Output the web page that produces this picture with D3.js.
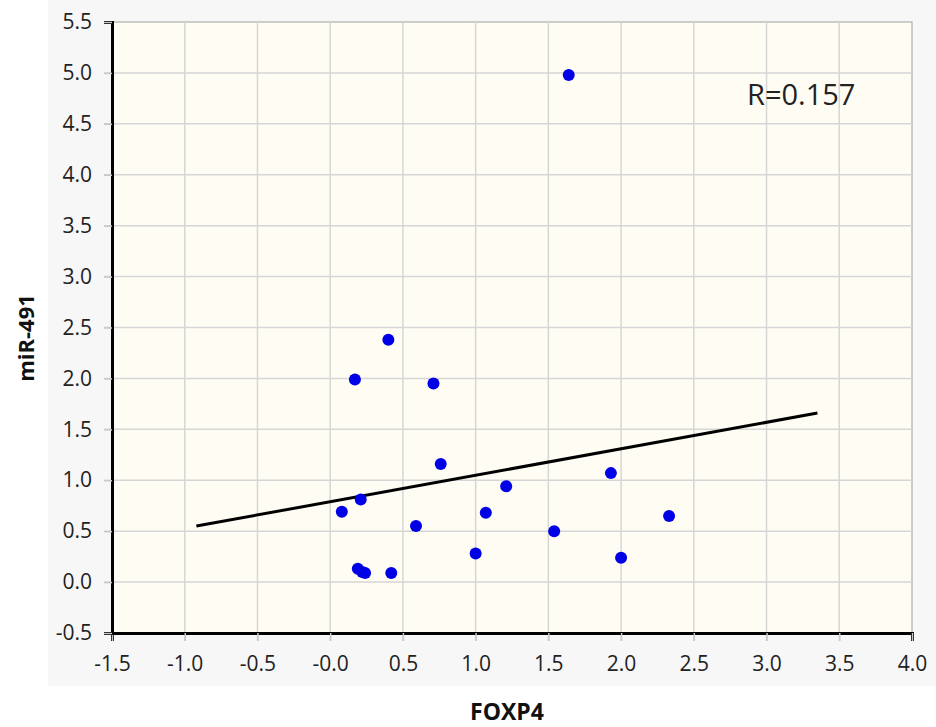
<!DOCTYPE html>
<html>
<head>
<meta charset="utf-8">
<script src="https://cdn.jsdelivr.net/npm/d3@7"></script>
<style>
  body { margin: 0; background: #fff; }
  text { font-family: 'Open Sans', sans-serif; fill: #222; }
</style>
</head>
<body>
<div class="visual"></div>
<script>
const [width, height] = [936, 727];
const margin = { top: 22, right: 24, bottom: 94, left: 112 };

// FOXP4 (x) vs miR-491 (y)
const foxp4 = [0.40, 0.17, 0.71, 0.76, 1.93, 1.21, 0.21, 0.08, 1.07, 2.33, 0.59, 1.54, 1.00, 2.00, 0.19, 0.24, 0.22, 0.42, 1.64];
const mir491 = [2.38, 1.99, 1.95, 1.16, 1.07, 0.94, 0.81, 0.69, 0.68, 0.65, 0.55, 0.50, 0.28, 0.24, 0.13, 0.09, 0.10, 0.09, 4.98];

// fitted line endpoints
const fit_x = [-0.92, 3.35];
const fit_y = [0.55, 1.66];

const x_ticks = [-1.5, -1.0, -0.5, 0, 0.5, 1.0, 1.5, 2.0, 2.5, 3.0, 3.5, 4.0];
const x_tick_labels = ['-1.5', '-1.0', '-0.5', '-0.0', '0.5', '1.0', '1.5', '2.0', '2.5', '3.0', '3.5', '4.0'];
const y_ticks = [-0.5, 0, 0.5, 1.0, 1.5, 2.0, 2.5, 3.0, 3.5, 4.0, 4.5, 5.0, 5.5];
const y_tick_labels = ['-0.5', '0.0', '0.5', '1.0', '1.5', '2.0', '2.5', '3.0', '3.5', '4.0', '4.5', '5.0', '5.5'];

const svg = d3.select('.visual').append('svg')
  .attr('width', width)
  .attr('height', height);

const x_scale = d3.scaleLinear().domain([-1.5, 4.0]).range([margin.left, width - margin.right]);
const y_scale = d3.scaleLinear().domain([-0.5, 5.5]).range([height - margin.bottom, margin.top]);

// faint grey panel behind the chart
svg.append('rect')
  .attr('x', 48).attr('y', 0)
  .attr('width', 888).attr('height', 686)
  .style('fill', '#f7f7f7');

// plot background
svg.append('rect')
  .attr('x', margin.left).attr('y', margin.top)
  .attr('width', x_scale(4.0) - margin.left)
  .attr('height', y_scale(-0.5) - margin.top)
  .style('fill', '#fffcf4')
  .style('stroke', '#bdbdbd')
  .style('stroke-width', 1.5);

// gridlines
svg.append('g')
  .selectAll('line')
  .data(x_ticks.slice(1, -1))
  .enter()
  .append('line')
  .attr('x1', (d) => x_scale(d)).attr('x2', (d) => x_scale(d))
  .attr('y1', margin.top).attr('y2', y_scale(-0.5) + 8)
  .style('stroke', '#d6d6d6').style('stroke-width', 1.5);

svg.append('g')
  .selectAll('line')
  .data(y_ticks.slice(1, -1))
  .enter()
  .append('line')
  .attr('x1', margin.left - 8).attr('x2', x_scale(4.0))
  .attr('y1', (d) => y_scale(d)).attr('y2', (d) => y_scale(d))
  .style('stroke', '#d6d6d6').style('stroke-width', 1.5);

// axes
const x_axis = d3.axisBottom(x_scale)
  .tickValues(x_ticks)
  .tickSize(8)
  .tickPadding(12)
  .tickFormat((d, i) => x_tick_labels[i]);

const y_axis = d3.axisLeft(y_scale)
  .tickValues(y_ticks)
  .tickSize(8)
  .tickPadding(12)
  .tickFormat((d, i) => y_tick_labels[i]);

const gx = svg.append('g')
  .attr('transform', `translate(0, ${y_scale(-0.5)})`)
  .call(x_axis);

const gy = svg.append('g')
  .attr('transform', `translate(${margin.left}, 0)`)
  .call(y_axis);

[gx, gy].forEach((g) => {
  g.select('.domain').style('stroke', '#000').style('stroke-width', 3);
  g.selectAll('.tick line').style('stroke', '#c8c8c8').style('stroke-width', 1.5);
  g.selectAll('.tick text').style('font-size', '21px').style('fill', '#222');
});
gx.selectAll('.tick text').attr('dy', '0.85em');

// fitted line
svg.append('line')
  .attr('x1', x_scale(fit_x[0])).attr('y1', y_scale(fit_y[0]))
  .attr('x2', x_scale(fit_x[1])).attr('y2', y_scale(fit_y[1]))
  .style('stroke', '#000').style('stroke-width', 3);

// points
svg.append('g')
  .selectAll('circle')
  .data(foxp4)
  .enter()
  .append('circle')
  .attr('cx', (d) => x_scale(d))
  .attr('cy', (d, i) => y_scale(mir491[i]))
  .attr('r', 6)
  .style('fill', '#0000e6');

svg.append('text')
  .attr('x', 747).attr('y', 105)
  .style('font-size', '29px')
  .text('R=0.157');

svg.append('text')
  .attr('transform', 'translate(34, 338) rotate(-90)')
  .attr('text-anchor', 'middle')
  .style('font-size', '22px')
  .style('font-weight', 'bold')
  .style('fill', '#111')
  .text('miR-491');

svg.append('text')
  .attr('x', 507).attr('y', 720)
  .attr('text-anchor', 'middle')
  .style('font-size', '23px')
  .style('font-weight', 'bold')
  .style('fill', '#111')
  .text('FOXP4');
</script>
</body>
</html>
